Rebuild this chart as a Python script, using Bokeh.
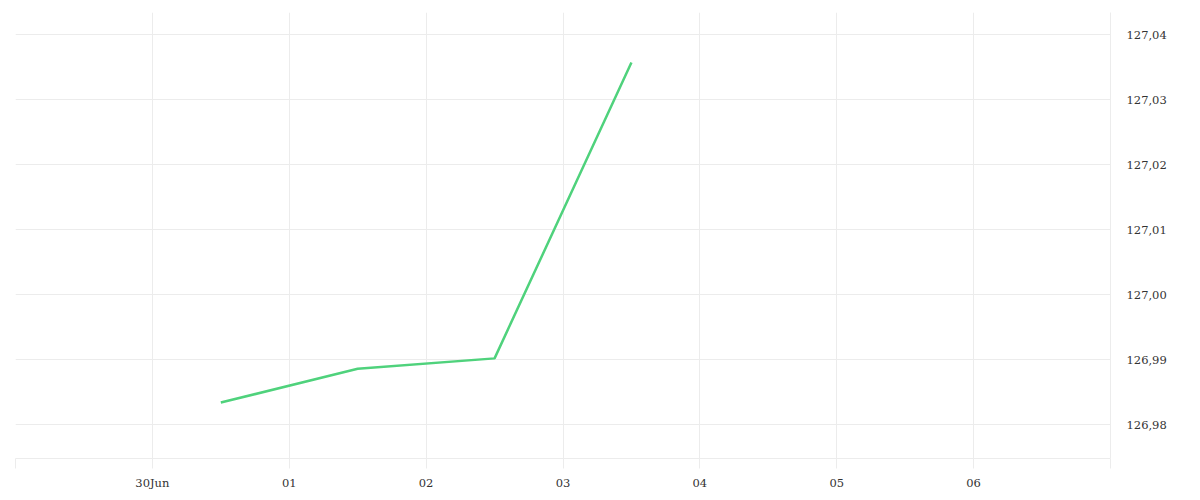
from datetime import datetime
from bokeh.plotting import figure
from bokeh.models import Range1d, FixedTicker
from bokeh.embed import file_html
from bokeh.resources import INLINE

# Data
dates = [datetime(2025, 6, 30, 12), datetime(2025, 7, 1, 12), datetime(2025, 7, 2, 12), datetime(2025, 7, 3, 12)]
values = [126.9834, 126.9886, 126.9902, 127.0357]

x_tick_dates = [datetime(2025, 6, d) for d in (29, 30)] + [datetime(2025, 7, d) for d in range(1, 8)]
x_tick_labels = ["", "30Jun", "01", "02", "03", "04", "05", "06", ""]
y_ticks = [126.98, 126.99, 127.00, 127.01, 127.02, 127.03, 127.04]
y_tick_labels = ["126,98", "126,99", "127,00", "127,01", "127,02", "127,03", "127,04"]

def ms(d):
    return (d - datetime(1970, 1, 1)).total_seconds() * 1000.0

GRID = "#ececec"
FONT = "DejaVu Serif"

p = figure(width=1200, height=500, x_axis_type="datetime", y_axis_location="right",
           output_backend="svg", toolbar_location=None,
           x_range=Range1d(ms(x_tick_dates[0]), ms(x_tick_dates[-1])),
           y_range=Range1d(126.9748, 127.0434),
           min_border_left=15, min_border_top=12, min_border_right=90, min_border_bottom=42)
p.outline_line_color = None

p.line(dates, values, line_color="#4fd27c", line_width=2.5)

xt = [ms(d) for d in x_tick_dates]
p.xaxis.ticker = FixedTicker(ticks=xt)
p.xaxis.major_label_overrides = {t: l for t, l in zip(xt, x_tick_labels)}
p.xaxis.major_tick_in = 0
p.xaxis.major_tick_out = 10
p.xaxis.minor_tick_line_color = None
p.xaxis.major_tick_line_color = GRID
p.xaxis.axis_line_color = GRID
p.xaxis.major_label_standoff = 7
p.xaxis.major_label_text_font = FONT
p.xaxis.major_label_text_font_size = "11.5px"
p.xaxis.major_label_text_color = "#333333"

p.yaxis.ticker = FixedTicker(ticks=y_ticks)
p.yaxis.major_label_overrides = {t: l for t, l in zip(y_ticks, y_tick_labels)}
p.yaxis.major_tick_in = 0
p.yaxis.major_tick_out = 0
p.yaxis.minor_tick_line_color = None
p.yaxis.axis_line_color = GRID
p.yaxis.major_label_standoff = 16
p.yaxis.major_label_text_font = FONT
p.yaxis.major_label_text_font_size = "11.5px"
p.yaxis.major_label_text_color = "#333333"

p.xgrid.grid_line_color = GRID
p.ygrid.grid_line_color = GRID

open("out.html", "w").write(file_html(p, INLINE))
